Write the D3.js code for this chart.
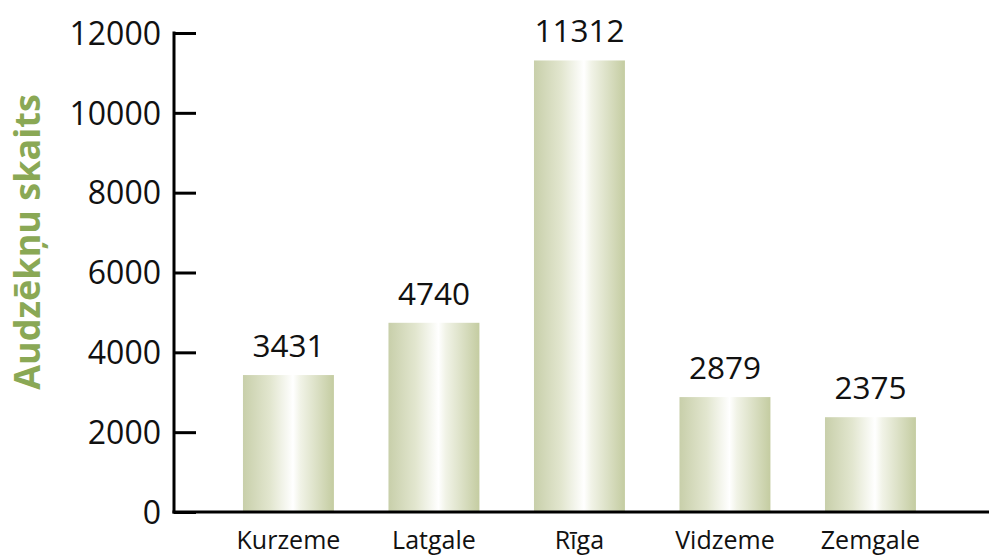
<!DOCTYPE html>
<html lang="lv">
  <head>
    <meta charset="utf-8">
    <title>Audzēkņu skaits</title>
    <style>
      body { margin: 0; background: white; }
      svg text { font-family: "Open Sans", sans-serif; fill: #111; }
    </style>
    <script src="https://cdn.jsdelivr.net/npm/d3@7"></script>
  </head>
  <body>
    <svg id="chart" width="989" height="557"></svg>
    <script>
      // data
      var regions = ["Kurzeme", "Latgale", "Rīga", "Vidzeme", "Zemgale"];
      var students = [3431, 4740, 11312, 2879, 2375];
      var yTicks = [0, 2000, 4000, 6000, 8000, 10000, 12000];
      var yTitle = "Audzēkņu skaits";

      var svg = d3.select("#chart");
      var axisX = 174, baseY = 512, topY = 33;

      var x = d3.scaleBand().domain(regions)
          .range([197.5, 961.4]).paddingInner(0.375).paddingOuter(0.3125);
      var y = d3.scaleLinear().domain([0, 12000]).range([baseY, topY]);

      // bar shading
      var grad = svg.append("defs").append("linearGradient")
          .attr("id", "barfill").attr("x1", "0").attr("x2", "1").attr("y1", "0").attr("y2", "0");
      [[0, "#c8cfaa"], [0.3, "#e2e6cf"], [0.55, "#ffffff"], [0.63, "#f1f3e7"], [1, "#c4cca1"]]
        .forEach(function(s) {
          grad.append("stop").attr("offset", s[0]).attr("stop-color", s[1]);
        });

      var rows = regions.map(function(r, i) { return {name: r, value: students[i]}; });

      svg.selectAll("rect.bar").data(rows).enter().append("rect")
          .attr("class", "bar")
          .attr("x", function(d) { return x(d.name); })
          .attr("width", x.bandwidth())
          .attr("y", function(d) { return y(d.value); })
          .attr("height", function(d) { return baseY - y(d.value); })
          .style("fill", "url(#barfill)");

      svg.selectAll("text.val").data(rows).enter().append("text")
          .attr("class", "val")
          .attr("x", function(d) { return x(d.name) + x.bandwidth() / 2; })
          .attr("y", function(d) { return y(d.value) - 18; })
          .attr("text-anchor", "middle")
          .style("font-size", "31.5px")
          .text(function(d) { return d.value; });

      // y axis, ticks pointing inward
      var yAxis = svg.append("g").attr("transform", "translate(" + axisX + ",0)")
          .call(d3.axisRight(y).tickValues(yTicks).tickSize(22).tickFormat(d3.format("d")));
      yAxis.select(".domain").remove();
      yAxis.selectAll(".tick line").attr("stroke", "#000").attr("stroke-width", 3);
      yAxis.selectAll(".tick text")
          .attr("x", -13).attr("dy", "0.35em")
          .attr("text-anchor", "end")
          .style("font-size", "32px").style("font-family", "'Open Sans', sans-serif");

      svg.append("line").attr("x1", axisX).attr("x2", axisX)
          .attr("y1", topY - 1.5).attr("y2", baseY + 1.5)
          .attr("stroke", "#000").attr("stroke-width", 3);
      svg.append("line").attr("x1", axisX - 1.5).attr("x2", 989)
          .attr("y1", baseY).attr("y2", baseY)
          .attr("stroke", "#000").attr("stroke-width", 3);

      // category labels
      svg.selectAll("text.cat").data(regions).enter().append("text")
          .attr("class", "cat")
          .attr("x", function(d) { return x(d) + x.bandwidth() / 2; })
          .attr("y", 549)
          .attr("text-anchor", "middle")
          .style("font-size", "25px")
          .text(function(d) { return d; });

      svg.append("text")
          .attr("transform", "translate(40,242) rotate(-90)")
          .attr("text-anchor", "middle")
          .style("font-size", "36px").style("font-weight", "bold")
          .style("fill", "#8aa855")
          .text(yTitle);
    </script>
  </body>
</html>
